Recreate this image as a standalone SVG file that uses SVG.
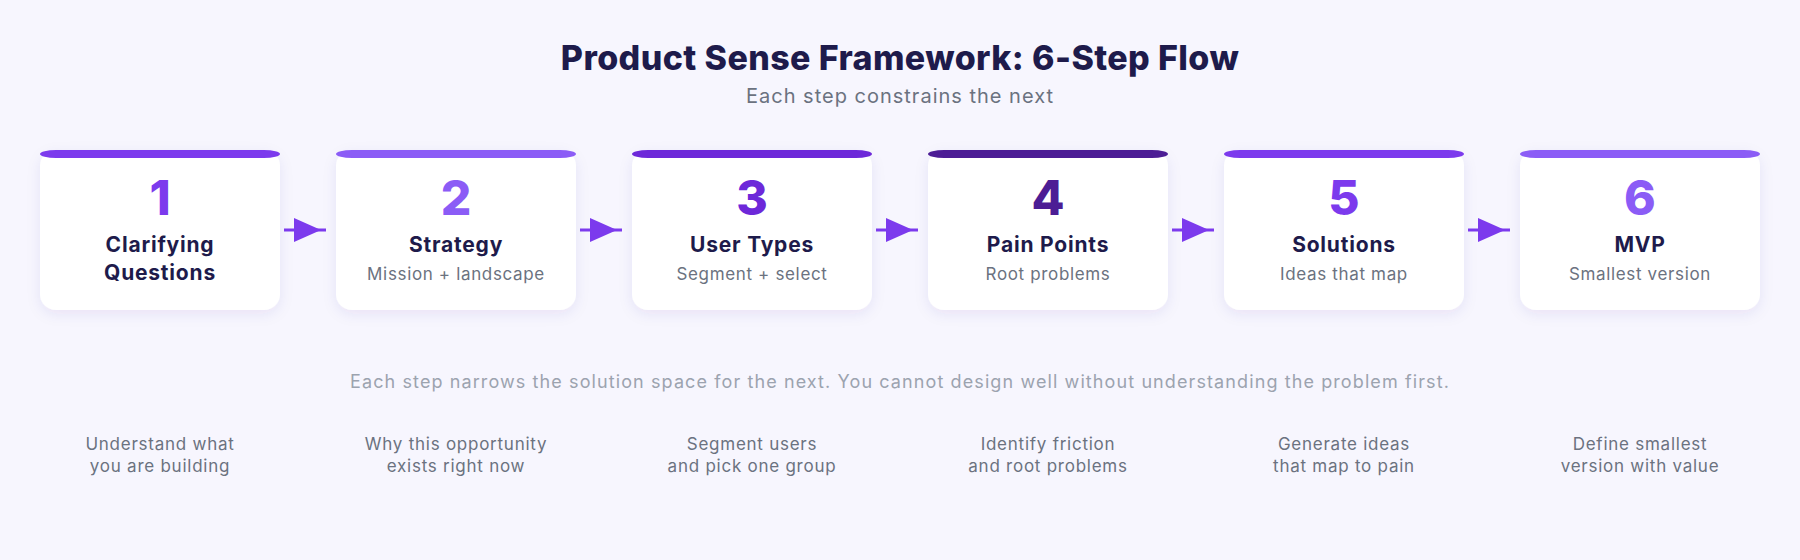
<svg xmlns="http://www.w3.org/2000/svg" width="1800" height="560" viewBox="0 0 1800 560">
<defs>
<filter id="sh" x="-20%" y="-20%" width="140%" height="150%">
<feDropShadow dx="0" dy="4" stdDeviation="7" flood-color="#4c1d95" flood-opacity="0.08"/>
</filter>
<style>
text{font-family:Inter,"Liberation Sans",sans-serif;text-anchor:middle}
.title{font-size:34px;font-weight:800;fill:#1e1b4b;letter-spacing:0.4px}
.sub{font-size:20px;fill:#6b7280;letter-spacing:1px}
.num{font-size:48px;font-weight:800}
.name{font-size:21px;font-weight:700;fill:#1e1b4b;letter-spacing:0.8px}
.desc{font-size:17px;fill:#6b7280;letter-spacing:0.65px}
.note{font-size:18px;fill:#9ca3af;letter-spacing:1.1px}
.bottom{font-size:17px;fill:#6b7280;letter-spacing:0.75px}
.card{fill:#ffffff}
.conn line{stroke:#7c3aed;stroke-width:3}
.conn polygon{fill:#7c3aed}
</style>
</defs>
<rect width="1800" height="560" fill="#f7f6fe"/>
<text class="title" x="900" y="70">Product Sense Framework: 6-Step Flow</text>
<text class="sub" x="900" y="103">Each step constrains the next</text>

<g id="step1">
<rect class="card" x="40" y="150" width="240" height="160" rx="16" filter="url(#sh)"/>
<rect x="40" y="150" width="240" height="8" rx="16" fill="#7c3aed"/>
<text class="num" x="160" y="215" fill="#7c3aed">1</text>
<text class="name" x="160" y="252">Clarifying</text>
<text class="name" x="160" y="280">Questions</text>
</g>
<g id="step2">
<rect class="card" x="336" y="150" width="240" height="160" rx="16" filter="url(#sh)"/>
<rect x="336" y="150" width="240" height="8" rx="16" fill="#8b5cf6"/>
<text class="num" x="456" y="215" fill="#8b5cf6">2</text>
<text class="name" x="456" y="252">Strategy</text>
<text class="desc" x="456" y="280">Mission + landscape</text>
</g>
<g id="step3">
<rect class="card" x="632" y="150" width="240" height="160" rx="16" filter="url(#sh)"/>
<rect x="632" y="150" width="240" height="8" rx="16" fill="#6d28d9"/>
<text class="num" x="752" y="215" fill="#6d28d9">3</text>
<text class="name" x="752" y="252">User Types</text>
<text class="desc" x="752" y="280">Segment + select</text>
</g>
<g id="step4">
<rect class="card" x="928" y="150" width="240" height="160" rx="16" filter="url(#sh)"/>
<rect x="928" y="150" width="240" height="8" rx="16" fill="#4c1d95"/>
<text class="num" x="1048" y="215" fill="#4c1d95">4</text>
<text class="name" x="1048" y="252">Pain Points</text>
<text class="desc" x="1048" y="280">Root problems</text>
</g>
<g id="step5">
<rect class="card" x="1224" y="150" width="240" height="160" rx="16" filter="url(#sh)"/>
<rect x="1224" y="150" width="240" height="8" rx="16" fill="#7c3aed"/>
<text class="num" x="1344" y="215" fill="#7c3aed">5</text>
<text class="name" x="1344" y="252">Solutions</text>
<text class="desc" x="1344" y="280">Ideas that map</text>
</g>
<g id="step6">
<rect class="card" x="1520" y="150" width="240" height="160" rx="16" filter="url(#sh)"/>
<rect x="1520" y="150" width="240" height="8" rx="16" fill="#8b5cf6"/>
<text class="num" x="1640" y="215" fill="#8b5cf6">6</text>
<text class="name" x="1640" y="252">MVP</text>
<text class="desc" x="1640" y="280">Smallest version</text>
</g>

<g id="connectors" class="conn">
<line x1="284" y1="230" x2="326" y2="230"/><polygon points="294,218 321,230 294,242"/>
<line x1="580" y1="230" x2="622" y2="230"/><polygon points="590,218 617,230 590,242"/>
<line x1="876" y1="230" x2="918" y2="230"/><polygon points="886,218 913,230 886,242"/>
<line x1="1172" y1="230" x2="1214" y2="230"/><polygon points="1182,218 1209,230 1182,242"/>
<line x1="1468" y1="230" x2="1510" y2="230"/><polygon points="1478,218 1505,230 1478,242"/>
</g>

<text class="note" x="900" y="388">Each step narrows the solution space for the next. You cannot design well without understanding the problem first.</text>

<g id="details">
<text class="bottom" x="160" y="450">Understand what</text>
<text class="bottom" x="160" y="472">you are building</text>
<text class="bottom" x="456" y="450">Why this opportunity</text>
<text class="bottom" x="456" y="472">exists right now</text>
<text class="bottom" x="752" y="450">Segment users</text>
<text class="bottom" x="752" y="472">and pick one group</text>
<text class="bottom" x="1048" y="450">Identify friction</text>
<text class="bottom" x="1048" y="472">and root problems</text>
<text class="bottom" x="1344" y="450">Generate ideas</text>
<text class="bottom" x="1344" y="472">that map to pain</text>
<text class="bottom" x="1640" y="450">Define smallest</text>
<text class="bottom" x="1640" y="472">version with value</text>
</g>
</svg>
